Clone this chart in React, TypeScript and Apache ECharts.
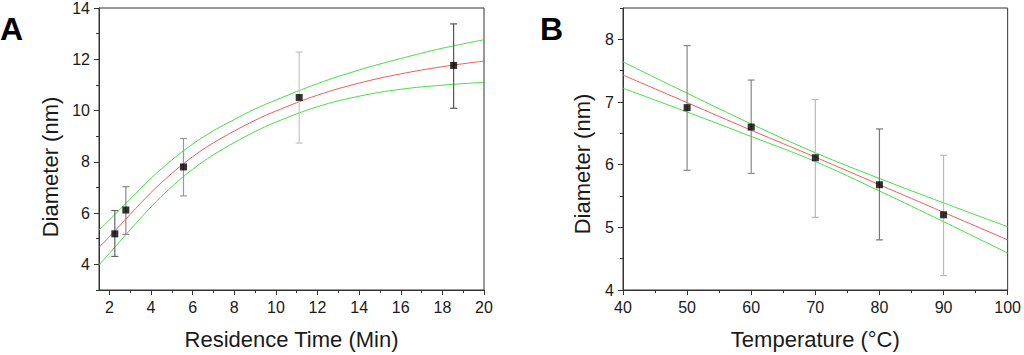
import React, { useEffect, useRef } from "react";
import * as echarts from "echarts";

// ---------- Panel A data ----------
const residenceTime = [2.26, 2.79, 5.56, 11.12, 18.54];
const diameterA = [5.19, 6.12, 7.8, 10.51, 11.76];
const errLowA = [4.31, 5.17, 6.67, 8.73, 10.09];
const errHighA = [6.1, 7.03, 8.91, 12.28, 13.38];

const fitXA = [1.5, 2, 3, 4, 5, 6, 7, 8, 9, 10, 12, 14, 16, 18, 20];
const fitA = [4.66, 5.08, 5.95, 6.8, 7.55, 8.2, 8.74, 9.2, 9.62, 9.98, 10.6, 11.07, 11.43, 11.71, 11.93];
const upperA = [5.34, 5.73, 6.55, 7.36, 8.07, 8.69, 9.21, 9.65, 10.06, 10.41, 11.05, 11.58, 12.03, 12.43, 12.76];
const lowerA = [3.98, 4.43, 5.35, 6.24, 7.03, 7.71, 8.27, 8.75, 9.18, 9.55, 10.15, 10.56, 10.83, 10.99, 11.1];

const xTicksA = [2, 4, 6, 8, 10, 12, 14, 16, 18, 20];
const xMinorA = [3, 5, 7, 9, 11, 13, 15, 17, 19];
const yTicksA = [4, 6, 8, 10, 12, 14];
const yMinorA = [3, 5, 7, 9, 11, 13];

// ---------- Panel B data ----------
const temperature = [50, 60, 70, 80, 90];
const diameterB = [6.91, 6.6, 6.11, 5.68, 5.2];
const errLowB = [5.91, 5.86, 5.16, 4.8, 4.23];
const errHighB = [7.9, 7.35, 7.04, 6.57, 6.15];

const fitXB = [40, 50, 60, 70, 80, 90, 100];
const fitB = [7.43, 6.99, 6.55, 6.12, 5.68, 5.24, 4.8];
const upperB = [7.64, 7.14, 6.65, 6.19, 5.78, 5.39, 5.01];
const lowerB = [7.22, 6.84, 6.45, 6.05, 5.58, 5.09, 4.59];

const xTicksB = [40, 50, 60, 70, 80, 90, 100];
const xMinorB = [45, 55, 65, 75, 85, 95];
const yTicksB = [4, 5, 6, 7, 8];
const yMinorB = [4.5, 5.5, 6.5, 7.5, 8.5];

// error bar colours (style)
const errColorA = ["#666", "#888", "#999", "#c4c4c4", "#555"];
const errColorB = ["#888", "#888", "#bbb", "#777", "#bbb"];

const FONT = "'Liberation Sans', Arial, sans-serif";
const AXIS_COLOR = "#333";
const RED = "#f25a5a";
const GREEN = "#44e044";

const zip = (xs: number[], ys: number[]) => xs.map((x, i) => [x, ys[i]]);

function mainX(gridIndex: number, min: number, max: number, ticks: number[], name: string) {
  return {
    type: "value",
    gridIndex,
    min,
    max,
    position: "bottom",
    axisLine: { show: true, onZero: false, lineStyle: { color: AXIS_COLOR, width: 1 } },
    axisTick: { show: true, inside: false, length: 5, customValues: ticks, lineStyle: { color: AXIS_COLOR } },
    axisLabel: { customValues: ticks, fontSize: 16, color: "#1a1a1a", margin: 9, fontFamily: FONT },
    splitLine: { show: false },
    name,
    nameLocation: "middle",
    nameGap: 38,
    nameTextStyle: { fontSize: 22, color: "#1a1a1a", fontFamily: FONT },
  };
}
function minorX(gridIndex: number, min: number, max: number, ticks: number[]) {
  return {
    type: "value",
    gridIndex,
    min,
    max,
    position: "bottom",
    axisLine: { show: false },
    axisTick: { show: true, inside: false, length: 3, customValues: ticks, lineStyle: { color: AXIS_COLOR } },
    axisLabel: { show: false },
    splitLine: { show: false },
  };
}
function mainY(gridIndex: number, min: number, max: number, ticks: number[]) {
  return {
    type: "value",
    gridIndex,
    min,
    max,
    position: "left",
    axisLine: { show: true, onZero: false, lineStyle: { color: AXIS_COLOR, width: 1 } },
    axisTick: { show: true, inside: false, length: 5, customValues: ticks, lineStyle: { color: AXIS_COLOR } },
    axisLabel: { customValues: ticks, fontSize: 16, color: "#1a1a1a", margin: 9, fontFamily: FONT },
    splitLine: { show: false },
  };
}
function minorY(gridIndex: number, min: number, max: number, ticks: number[]) {
  return {
    type: "value",
    gridIndex,
    min,
    max,
    position: "left",
    axisLine: { show: false },
    axisTick: { show: true, inside: false, length: 3, customValues: ticks, lineStyle: { color: AXIS_COLOR } },
    axisLabel: { show: false },
    splitLine: { show: false },
  };
}

function lineSeries(axisIdx: number, data: number[][], color: string) {
  return {
    type: "line",
    xAxisIndex: axisIdx,
    yAxisIndex: axisIdx,
    data,
    smooth: 0.4,
    symbol: "none",
    lineStyle: { color, width: 1 },
    z: 2,
  };
}

function errorSeries(axisIdx: number, xs: number[], lo: number[], hi: number[], colors: string[]) {
  return {
    type: "custom",
    xAxisIndex: axisIdx,
    yAxisIndex: axisIdx,
    data: xs.map((x, i) => [x, lo[i], hi[i]]),
    encode: { x: 0, y: [1, 2] },
    z: 3,
    renderItem: (params: any, api: any) => {
      const x = api.value(0);
      const top = api.coord([x, api.value(2)]);
      const bot = api.coord([x, api.value(1)]);
      const c = colors[params.dataIndex];
      const hw = 3.5;
      const st = { stroke: c, lineWidth: 1.2 };
      return {
        type: "group",
        children: [
          { type: "line", shape: { x1: top[0], y1: top[1], x2: bot[0], y2: bot[1] }, style: st },
          { type: "line", shape: { x1: top[0] - hw, y1: top[1], x2: top[0] + hw, y2: top[1] }, style: st },
          { type: "line", shape: { x1: bot[0] - hw, y1: bot[1], x2: bot[0] + hw, y2: bot[1] }, style: st },
        ],
      };
    },
  };
}

function pointSeries(axisIdx: number, data: number[][]) {
  return {
    type: "scatter",
    xAxisIndex: axisIdx,
    yAxisIndex: axisIdx,
    data,
    symbol: "rect",
    symbolSize: 7,
    itemStyle: { color: "#000" },
    z: 5,
  };
}

export default function App() {
  const ref = useRef<HTMLDivElement>(null);
  useEffect(() => {
    if (!ref.current) return;
    const chart = echarts.init(ref.current, null, { renderer: "svg" });
    const option: any = {
      animation: false,
      backgroundColor: "#fff",
      grid: [
        { left: 99, right: 540, top: 8, bottom: 64, show: true, borderColor: AXIS_COLOR, borderWidth: 1, backgroundColor: "transparent" },
        { left: 623, right: 16, top: 8, bottom: 65, show: true, borderColor: AXIS_COLOR, borderWidth: 1, backgroundColor: "transparent" },
      ],
      xAxis: [
        mainX(0, 1.5, 20, xTicksA, "Residence Time (Min)"),
        minorX(0, 1.5, 20, xMinorA),
        mainX(1, 40, 100, xTicksB, "Temperature (°C)"),
        minorX(1, 40, 100, xMinorB),
      ],
      yAxis: [
        mainY(0, 3, 14, yTicksA),
        minorY(0, 3, 14, yMinorA),
        mainY(1, 4, 8.5, yTicksB),
        minorY(1, 4, 8.5, yMinorB),
      ],
      graphic: [
        { type: "text", x: 0, y: 29, style: { text: "A", font: `bold 32px ${FONT}`, fill: "#000", verticalAlign: "middle", align: "left" } },
        { type: "text", x: 540, y: 29, style: { text: "B", font: `bold 32px ${FONT}`, fill: "#000", verticalAlign: "middle", align: "left" } },
        { type: "text", x: 50, y: 167, rotation: Math.PI / 2, style: { text: "Diameter (nm)", font: `22px ${FONT}`, fill: "#1a1a1a", align: "center", verticalAlign: "middle" } },
        { type: "text", x: 582, y: 164, rotation: Math.PI / 2, style: { text: "Diameter (nm)", font: `22px ${FONT}`, fill: "#1a1a1a", align: "center", verticalAlign: "middle" } },
      ],
      series: [
        lineSeries(0, zip(fitXA, upperA), GREEN),
        lineSeries(0, zip(fitXA, lowerA), GREEN),
        lineSeries(0, zip(fitXA, fitA), RED),
        errorSeries(0, residenceTime, errLowA, errHighA, errColorA),
        pointSeries(0, zip(residenceTime, diameterA)),
        lineSeries(2, zip(fitXB, upperB), GREEN),
        lineSeries(2, zip(fitXB, lowerB), GREEN),
        lineSeries(2, zip(fitXB, fitB), RED),
        errorSeries(2, temperature, errLowB, errHighB, errColorB),
        pointSeries(2, zip(temperature, diameterB)),
      ],
    };
    chart.setOption(option);
    return () => chart.dispose();
  }, []);
  return (
    <div
      ref={ref}
      style={{ position: "fixed", left: 0, top: 0, width: 1024, height: 355, background: "#fff" }}
    />
  );
}
